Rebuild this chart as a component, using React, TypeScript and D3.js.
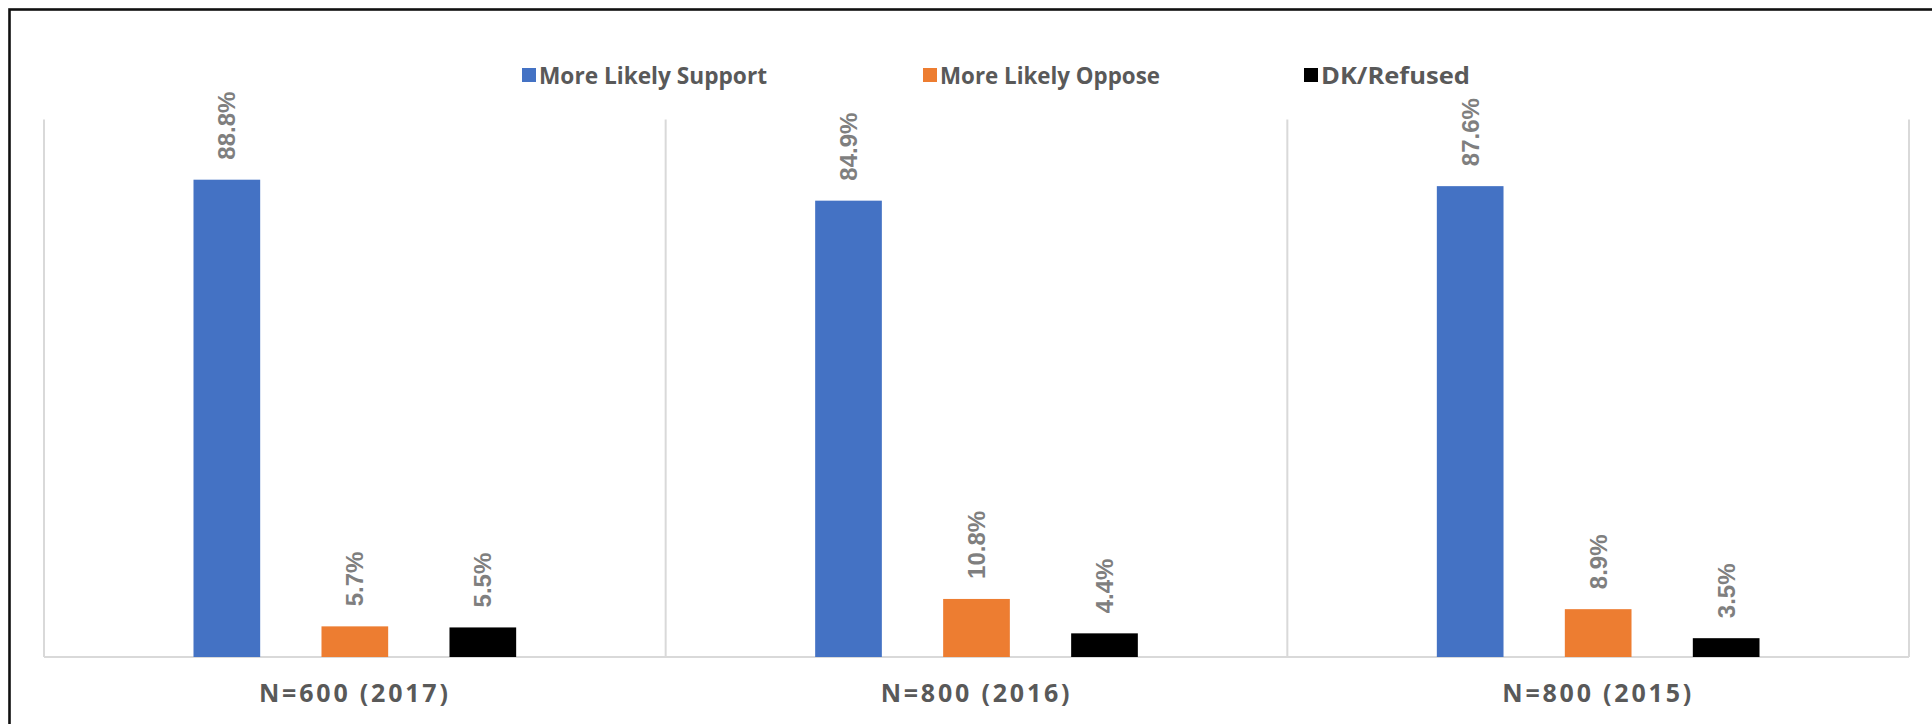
import React from "react";
import * as d3 from "d3";

const categories = ["N=600 (2017)", "N=800 (2016)", "N=800 (2015)"];
const seriesNames = ["More Likely Support", "More Likely Oppose", "DK/Refused"];
const supportValues = [0.888, 0.849, 0.876];
const opposeValues = [0.057, 0.108, 0.089];
const dkValues = [0.055, 0.044, 0.035];
const seriesColors = ["#4472C4", "#ED7D31", "#000000"];

const W = 1932;
const H = 724;
const plot = { left: 44, right: 1909, top: 119.5, bottom: 657 };

export default function App() {
  const seriesValues = [supportValues, opposeValues, dkValues];
  const x0 = d3.scaleBand<string>().domain(categories).range([plot.left, plot.right]).paddingInner(0).paddingOuter(0);
  const x1 = d3
    .scaleBand<string>()
    .domain(seriesNames)
    .range([0, x0.bandwidth()])
    .paddingInner(0.479)
    .paddingOuter(1.168);
  const y = d3.scaleLinear().domain([0, 1]).range([plot.bottom, plot.top]);
  const fmt = d3.format(".1%");

  const gridXs = [...categories.map((c) => x0(c) as number), plot.right];
  const legendX = d3.scaleOrdinal<string, number>().domain(seriesNames).range([522, 923, 1304]);
  const legendTextLen = d3.scaleOrdinal<string, number>().domain(seriesNames).range([228, 220, 149]);

  return (
    <svg
      width={W}
      height={H}
      style={{ position: "absolute", left: 0, top: 0, display: "block", background: "#fff" }}
    >
      <rect x={0} y={0} width={W} height={H} fill="#fff" />
      {/* outer frame (only top & left visible) */}
      <rect x={9.5} y={9.5} width={W + 40} height={H + 40} fill="none" stroke="#111" strokeWidth={2.6} />

      {/* vertical gridlines at category boundaries */}
      {gridXs.map((gx, i) => (
        <line key={i} x1={gx} x2={gx} y1={plot.top} y2={plot.bottom} stroke="#d9d9d9" strokeWidth={2} />
      ))}
      {/* baseline */}
      <line x1={plot.left} x2={plot.right} y1={plot.bottom} y2={plot.bottom} stroke="#d9d9d9" strokeWidth={2} />

      {/* bars */}
      {categories.map((c, ci) => (
        <g key={c} transform={`translate(${x0(c)},0)`}>
          {seriesNames.map((s, si) => {
            const v = seriesValues[si][ci];
            const bx = x1(s) as number;
            const bw = x1.bandwidth();
            return (
              <g key={s}>
                <rect x={bx} y={y(v)} width={bw} height={plot.bottom - y(v)} fill={seriesColors[si]} />
                <text
                  transform={`translate(${bx + bw / 2},${y(v) - 20}) rotate(-90)`}
                  textAnchor="start"
                  dominantBaseline="central"
                  fontFamily="'Liberation Sans', Arial, sans-serif"
                  fontWeight="bold"
                  fontSize={24}
                  fill="#7f7f7f"
                >
                  {fmt(v)}
                </text>
              </g>
            );
          })}
        </g>
      ))}

      {/* category labels */}
      {categories.map((c) => (
        <text
          key={c}
          x={(x0(c) as number) + x0.bandwidth() / 2}
          y={701.7}
          textAnchor="middle"
          fontFamily="'Open Sans', sans-serif"
          fontWeight="bold"
          fontSize={25}
          letterSpacing={2.8}
          fill="#595959"
        >
          {c}
        </text>
      ))}

      {/* legend */}
      {seriesNames.map((s, si) => {
        const lx = legendX(s);
        return (
          <g key={s}>
            <rect x={lx} y={68} width={14} height={14} fill={seriesColors[si]} />
            <text
              x={lx + 17}
              y={83.5}
              fontFamily="'Open Sans', sans-serif"
              fontWeight="bold"
              fontSize={23}
              fill="#595959"
              textLength={legendTextLen(s)}
              lengthAdjust="spacingAndGlyphs"
            >
              {s}
            </text>
          </g>
        );
      })}
    </svg>
  );
}
